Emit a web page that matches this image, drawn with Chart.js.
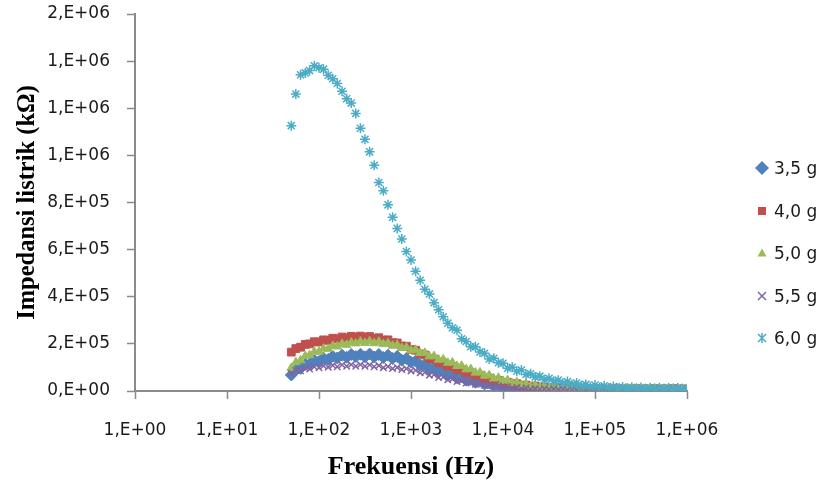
<!DOCTYPE html>
<html lang="id">
<head>
<meta charset="UTF-8">
<title>Impedansi listrik vs frekuensi</title>
<script src="https://cdn.jsdelivr.net/npm/chart.js"></script>
<style>
  html, body { margin: 0; padding: 0; background: #fff; }
  #wrap { position: relative; width: 824px; height: 490px; }
  .item { position: absolute; left: 751px; height: 24px; display: flex; align-items: center;
          font-family: "DejaVu Sans", sans-serif; font-size: 17px; color: #1a1a1a; white-space: nowrap; }
  .item canvas { width: 22px; height: 22px; margin-right: 1px; }
</style>
</head>
<body>
<div id="wrap">
  <canvas id="myChart" width="824" height="490"></canvas>
</div>
<script>
// frekuensi pengukuran (Hz)
const freqHz = [
  50, 56, 63, 71, 79, 89,
  100, 112, 126, 141, 158, 178, 200, 224, 251, 282, 316, 355, 398, 447, 501, 562, 631, 708, 794, 891,
  1000, 1122, 1259, 1413, 1585, 1778, 1995, 2239, 2512, 2818, 3162, 3548, 3981, 4467, 5012, 5623, 6310, 7079, 7943, 8913,
  10000, 11220, 12589, 14125, 15849, 17783, 19953, 22387, 25119, 28184, 31623, 35481, 39811, 44668, 50119, 56234, 63096, 70795, 79433, 89125,
  100000, 112202, 125893, 141254, 158489, 177828, 199526, 223872, 251189, 281838, 316228, 354813, 398107, 446684, 501187, 562341, 630957, 707946, 794328, 891251,
  1000000
];

// impedansi, dalam ribuan (x 1000)
const imp35 = [
  68, 90, 96, 113, 114, 129,
  125, 139, 134, 147, 140, 152, 143, 155, 146, 156, 145, 157, 144, 155, 142, 152, 138, 147, 131, 138,
  122, 127, 109, 112, 94, 99, 81, 84, 67, 71, 56, 60, 46, 49, 37, 41, 30, 34, 23, 27,
  17, 21, 12, 16, 9, 12, 6, 9, 4, 7, 2, 6, 1, 5, 1, 4, 0, 4, 0, 3,
  0, 4, 0, 3, 1, 4, 0, 3, 0, 4, 1, 3, 0, 4, 0, 3, 1, 4, 0, 3,
  2
];
const imp40 = [
  165, 180, 186, 198, 200, 209,
  208, 217, 215, 224, 221, 229, 225, 232, 227, 233, 226, 231, 223, 226, 216, 217, 205, 204, 191, 190,
  176, 173, 157, 153, 138, 135, 121, 119, 105, 104, 91, 90, 77, 77, 65, 65, 53, 54, 43, 45,
  35, 37, 28, 31, 22, 25, 17, 21, 13, 17, 10, 15, 8, 13, 7, 12, 6, 11, 6, 10,
  5, 10, 5, 9, 5, 10, 4, 9, 5, 10, 4, 9, 5, 10, 4, 9, 5, 10, 4, 9,
  7
];
const imp50 = [
  98, 122, 130, 149, 152, 167,
  167, 180, 179, 191, 189, 200, 196, 206, 202, 210, 204, 211, 203, 209, 199, 203, 192, 195, 183, 185,
  172, 175, 161, 162, 147, 148, 133, 134, 120, 121, 106, 107, 92, 93, 78, 79, 65, 67, 53, 56,
  43, 46, 33, 37, 25, 30, 19, 24, 15, 20, 11, 17, 9, 15, 7, 14, 6, 13, 6, 12,
  5, 12, 5, 11, 5, 11, 4, 11, 5, 11, 4, 10, 5, 11, 4, 10, 5, 11, 4, 10,
  8
];
const imp55 = [
  75, 87, 86, 97, 93, 103,
  98, 107, 101, 109, 103, 111, 105, 112, 105, 112, 105, 111, 103, 108, 99, 104, 95, 100, 91, 95,
  85, 88, 77, 79, 67, 69, 57, 59, 48, 51, 40, 43, 34, 37, 28, 31, 23, 26, 19, 22,
  15, 18, 12, 15, 10, 13, 8, 11, 7, 10, 6, 9, 5, 9, 4, 8, 4, 8, 4, 8,
  3, 8, 3, 7, 3, 8, 3, 7, 3, 8, 3, 7, 3, 8, 3, 7, 3, 8, 3, 7,
  6
];
const imp60 = [
  1126, 1260, 1342, 1350, 1360, 1380,
  1372, 1366, 1340, 1325, 1305, 1272, 1240, 1222, 1178, 1115, 1068, 1015, 958, 885, 850, 790, 737, 690, 645, 592,
  556, 508, 470, 432, 412, 375, 345, 315, 288, 268, 258, 222, 210, 188, 188, 166, 160, 136, 139, 120,
  118, 97, 101, 84, 89, 70, 73, 59, 63, 49, 54, 41, 46, 33, 40, 28, 34, 22, 28, 18,
  25, 15, 22, 13, 19, 11, 17, 10, 16, 8, 15, 8, 14, 7, 14, 7, 13, 7, 13, 7,
  10
];

const seriesLabels = ['3,5 g', '4,0 g', '5,0 g', '5,5 g', '6,0 g'];
const seriesValues = [imp35, imp40, imp50, imp55, imp60];
const xTicks = [1, 10, 100, 1000, 10000, 100000, 1000000];
const yTicks = [0, 200, 400, 600, 800, 1000, 1200, 1400, 1600];

// tampilan
const colors = ['#4F81BD', '#C0504D', '#9BBB59', '#8064A2', '#4BACC6'];
const markers = [
  { style: 'rectRot', r: 6 },
  { style: 'rect', r: 5.5 },
  { style: 'triangle', r: 5 },
  { style: 'crossRot', r: 4.5 },
  { style: 'star', r: 5 }
];
const axisGray = '#8a8a8a';
const tickFont = { family: '"DejaVu Sans", sans-serif', size: 17 };
const xTitleFont = { family: '"Liberation Serif", "Times New Roman", serif', size: 26, weight: 'bold' };
const yTitleFont = { family: '"Liberation Serif", "Times New Roman", serif', size: 24.5, weight: 'bold' };

// format seperti Excel "0.E+00" dengan koma
function excelSci(v) {
  if (v === 0) return '0,E+00';
  let e = Math.floor(Math.log10(v) + 1e-9);
  let m = Math.round(v / Math.pow(10, e));
  if (m === 10) { m = 1; e += 1; }
  return m + ',E' + (e < 0 ? '-' : '+') + String(Math.abs(e)).padStart(2, '0');
}

const datasets = seriesValues.map((vals, i) => ({
  label: seriesLabels[i],
  data: freqHz.map((f, j) => ({ x: f, y: vals[j] })),
  pointStyle: markers[i].style,
  pointRadius: markers[i].r,
  backgroundColor: colors[i],
  borderColor: colors[i],
  borderWidth: (i >= 3) ? 1.5 : 1,
  showLine: false,
  order: 5 - i   // seri terakhir digambar paling atas, seperti Excel
}));

const ctx = document.getElementById('myChart').getContext('2d');
const myChart = new Chart(ctx, {
  type: 'scatter',
  data: { datasets },
  options: {
    responsive: false,
    animation: false,
    layout: { padding: { left: 0, right: 137, top: 0, bottom: 0 } },
    plugins: { legend: { display: false }, tooltip: { enabled: false } },
    scales: {
      x: {
        type: 'logarithmic',
        min: 1, max: 1000000,
        afterBuildTicks: s => { s.ticks = xTicks.map(v => ({ value: v })); },
        afterFit: s => { s.height = 99; },
        ticks: { callback: v => excelSci(v), font: tickFont, color: '#1a1a1a', padding: 21, maxRotation: 0, autoSkip: false },
        grid: { drawOnChartArea: false, drawTicks: true, tickLength: 8, color: axisGray, tickWidth: 1.5 },
        border: { display: true, color: axisGray, width: 2 },
        title: { display: true, text: 'Frekuensi (Hz)', font: xTitleFont, color: '#000', padding: { top: 0, bottom: 7 } }
      },
      y: {
        min: 0, max: 1600,
        afterBuildTicks: s => { s.ticks = yTicks.map(v => ({ value: v })); },
        afterFit: s => { s.width = 135; s.paddingTop = 14; s.paddingBottom = 10; },
        ticks: { callback: v => excelSci(v * 1000), font: tickFont, color: '#1a1a1a', padding: 17 },
        grid: { drawOnChartArea: false, drawTicks: true, tickLength: 8, color: axisGray, tickWidth: 1.5 },
        border: { display: true, color: axisGray, width: 2 },
        title: { display: true, text: 'Impedansi listrik (kΩ)', font: yTitleFont, color: '#000', padding: { top: 13, bottom: 0 } }
      }
    }
  }
});

// legenda di kanan
function drawMarker(c, style, color, cx, cy) {
  c.fillStyle = color; c.strokeStyle = color; c.lineWidth = 1.5;
  c.beginPath();
  if (style === 'rectRot') {
    c.moveTo(cx, cy - 7); c.lineTo(cx + 7, cy); c.lineTo(cx, cy + 7); c.lineTo(cx - 7, cy); c.closePath(); c.fill();
  } else if (style === 'rect') {
    c.fillRect(cx - 4, cy - 4, 8, 8);
  } else if (style === 'triangle') {
    c.moveTo(cx, cy - 4.5); c.lineTo(cx + 4.5, cy + 3.5); c.lineTo(cx - 4.5, cy + 3.5); c.closePath(); c.fill();
  } else if (style === 'crossRot') {
    c.moveTo(cx - 4, cy - 4); c.lineTo(cx + 4, cy + 4); c.moveTo(cx + 4, cy - 4); c.lineTo(cx - 4, cy + 4); c.stroke();
  } else {
    c.moveTo(cx - 4, cy - 4); c.lineTo(cx + 4, cy + 4); c.moveTo(cx + 4, cy - 4); c.lineTo(cx - 4, cy + 4);
    c.moveTo(cx, cy - 5); c.lineTo(cx, cy + 5); c.stroke();
  }
}

const wrap = document.getElementById('wrap');
seriesLabels.forEach((label, i) => {
  const row = document.createElement('div');
  row.className = 'item';
  row.style.top = (156 + i * 42.5) + 'px';
  const mk = document.createElement('canvas');
  mk.width = 22; mk.height = 22;
  drawMarker(mk.getContext('2d'), markers[i].style, colors[i], 11, 11);
  const txt = document.createElement('span');
  txt.textContent = label;
  row.appendChild(mk);
  row.appendChild(txt);
  wrap.appendChild(row);
});
</script>
</body>
</html>
